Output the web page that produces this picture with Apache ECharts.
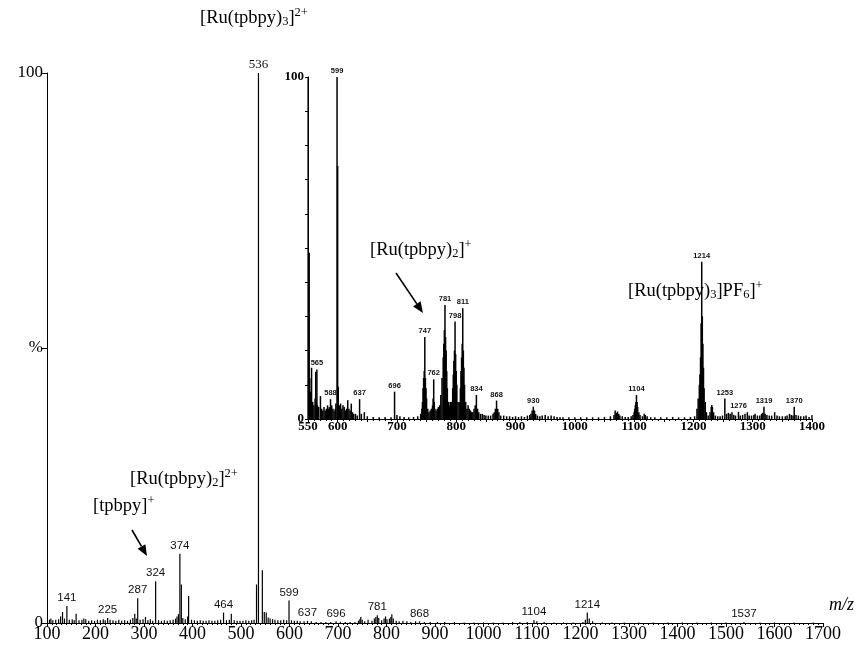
<!DOCTYPE html>
<html>
<head>
<meta charset="utf-8">
<script src="https://cdn.jsdelivr.net/npm/echarts@6/dist/echarts.min.js"></script>
<style>html,body{margin:0;padding:0;background:#fff}#c{width:862px;height:646px}</style>
</head>
<body>
<div id="c"></div>
<script>
// ---- Main spectrum (m/z 100-1700), relative intensity % ----
const mainMz = [105,108,112,118,124,128,132,136,141,146,152,156,160,166,172,176,180,186,192,198,204,210,216,220,225,230,236,242,248,254,260,266,272,277,281,284,287,292,298,303,308,313,318,324,330,336,342,348,354,360,365,368,371,374,377,380,385,390,392,398,404,410,416,422,428,434,440,446,452,458,464,470,476,480,486,492,498,504,510,516,522,527,532,536,544,548,552,556,560,565,570,576,582,588,594,599,604,610,616,622,630,637,645,655,665,675,685,696,705,715,725,735,742,745,747,750,755,762,770,775,778,781,784,790,795,798,801,806,809,811,814,820,826,834,842,850,860,868,878,890,905,920,940,960,980,1000,1020,1040,1060,1075,1090,1104,1110,1125,1145,1165,1185,1205,1210,1214,1218,1225,1245,1265,1290,1320,1350,1380,1410,1440,1470,1500,1537,1570,1600,1640,1680];
const mainInt = [0.6,0.8,0.5,0.6,0.7,1.2,2.0,0.8,3.1,0.6,0.7,0.5,1.7,0.5,0.6,0.8,0.7,0.4,0.5,0.4,0.6,0.5,0.7,0.5,0.9,0.6,0.5,0.4,0.6,0.4,0.5,0.4,0.6,0.9,1.7,0.8,4.5,0.6,0.7,1.1,0.5,0.7,0.4,7.6,0.5,0.4,0.5,0.4,0.5,0.6,0.8,1.2,1.6,12.6,7.0,0.9,0.7,1.2,4.9,0.6,0.5,0.4,0.5,0.4,0.4,0.5,0.4,0.4,0.5,0.6,1.9,0.5,0.6,1.7,0.5,0.4,0.4,0.4,0.5,0.4,0.5,0.6,7.0,100,9.6,2.0,1.9,1.0,0.8,0.7,0.6,0.5,0.5,0.6,0.5,4.1,0.5,0.4,0.4,0.3,0.3,0.4,0.3,0.2,0.2,0.2,0.2,0.3,0.2,0.2,0.2,0.2,0.4,0.7,1.1,0.6,0.3,0.6,0.4,0.8,1.1,1.4,0.9,0.5,0.8,1.2,0.7,0.8,1.1,1.6,0.8,0.4,0.3,0.4,0.3,0.2,0.3,0.3,0.2,0.2,0.2,0.2,0.2,0.1,0.1,0.1,0.1,0.1,0.2,0.2,0.2,0.5,0.3,0.2,0.1,0.1,0.1,0.2,0.6,1.9,0.8,0.3,0.1,0.1,0.1,0.1,0.1,0.1,0.1,0.1,0.1,0.1,0.2,0.1,0.1,0.1,0.1];
const mainLabels = [141,225,287,324,374,464,536,599,637,696,781,868,1104,1214,1537];

// ---- Inset spectrum (m/z 550-1400), relative intensity % ----
const insetMz = [550,551,552,553,554,556,558,560,562,563,564,565,566,568,571,573,575,577,579,581,583,585,586,588,590,592,594,596,597,599,600,601,603,605,607,609,611,613,615,617,619,621,623,625,627,630,633,637,640,645,650,660,670,680,690,696,700,705,712,720,728,735,740,742,743,744,745,746,747,748,749,750,752,754,756,758,760,761,762,763,764,766,768,770,772,774,776,778,779,780,781,782,783,784,785,787,789,790,792,794,795,796,797,798,799,800,801,803,805,807,808,809,810,811,812,813,814,816,818,820,822,824,826,828,830,832,834,836,838,841,844,847,850,854,858,862,864,866,868,870,872,875,880,885,890,895,900,905,910,915,920,924,926,928,930,932,934,937,941,945,950,955,960,965,970,975,980,990,1000,1010,1020,1030,1040,1050,1060,1066,1068,1070,1072,1074,1076,1080,1085,1090,1095,1098,1100,1101,1102,1103,1104,1105,1106,1108,1110,1114,1117,1119,1122,1128,1135,1145,1155,1165,1175,1185,1195,1202,1206,1208,1210,1211,1212,1213,1214,1215,1216,1217,1218,1220,1222,1225,1228,1230,1231,1232,1234,1237,1241,1245,1249,1253,1256,1259,1262,1265,1268,1271,1276,1279,1283,1287,1291,1294,1298,1302,1304,1308,1312,1315,1317,1319,1321,1324,1328,1332,1337,1341,1345,1350,1355,1358,1362,1365,1368,1370,1373,1377,1381,1386,1390,1395,1400];
const insetInt = [100,30,48.6,12,8,15,5,4,6,13.8,5,14.5,4,3.5,6.7,3,2.5,3.5,2.5,3,4,3,3.5,5.8,4,3,2.5,3,4.5,100,74,9.4,4,4.5,3,4,3.5,2.5,3,5.5,3,2.5,4.5,2,1.5,1.5,1,5.8,1.5,2,0.8,0.6,0.5,0.6,0.5,8,1.2,0.8,0.6,0.5,0.6,0.8,1.5,3,5,9,12,14,24,12,9,6,3,2,2.5,3,4,6,11.6,5,3,2.5,3,3.5,4,7,12,18,22,26,33.3,24,20,14,9,5,4,5,5,9,13,17,20,28.5,19,14,10,5,5,9,14,18,22,32.4,20,15,10,5,3,4,3,2.5,2,2,3,4,7,3,2,1.5,1.5,1.2,1,1,1,1.5,2,3,5.4,3,2,1,1,0.8,0.8,0.6,0.8,0.6,0.8,0.6,1,1.2,1.5,2.5,3.6,2.5,1.5,1,0.8,1,1.2,0.8,1,0.8,0.6,0.5,0.5,0.5,0.5,0.5,0.5,0.5,0.5,0.6,0.8,1.2,2.5,1.8,2.2,1.5,1,0.8,0.6,0.6,0.8,1.2,2,3,4,5,7,5,3.5,2,1.2,0.8,1.5,1.2,0.8,0.5,0.5,0.5,0.5,0.6,0.5,0.5,0.6,0.8,3,6,10,13,18,28,46,30,22,15,9,5,2,1,2,3.5,4.1,3.5,2,1,0.8,0.8,1,6,1.5,1.8,1.5,2,1.2,1,2.1,1,1.2,1.5,2,1,1,1.2,1.5,1,1,1.5,1.8,3.6,1.5,1.2,1,1,2,1,0.8,0.8,0.8,1,1.5,1.2,1,3.6,1.2,1,0.8,0.8,1,0.6,1.2];
const insetLabels = [565,588,599,637,696,747,762,781,798,811,834,868,930,1104,1214,1253,1276,1319,1370];

// ---- Axis tick label sets ----
const mainYTickText = {0: '0', 50: '%', 100: '100'};
const insetYTickText = {0: '0', 100: '100'};
const insetXTickLabels = [550,600,700,800,900,1000,1100,1200,1300,1400];

const SERIF = 'Liberation Serif';
const SANS = 'Liberation Sans';

function buildData(mz, inten, labels, labelStyle, special) {
  return mz.map(function (m, i) {
    const d = {value: [m, inten[i]]};
    if (labels.indexOf(m) >= 0) {
      d.label = Object.assign({show: true, position: 'top', distance: 2, formatter: String(m)}, labelStyle, (special && special[m]) || {});
    }
    return d;
  });
}

const mainData = buildData(mainMz, mainInt, mainLabels,
  {fontFamily: SANS, fontSize: 11.5, color: '#111'},
  {536: {fontFamily: SERIF, fontSize: 13}});
const insetData = buildData(insetMz, insetInt, insetLabels,
  {fontFamily: SANS, fontSize: 7.5, fontWeight: 'bold', color: '#111'});

function formula(parts) {
  return parts.map(function (p) { return '{' + p[0] + '|' + p[1] + '}'; }).join('');
}
const rich = {
  n: {fontFamily: SERIF, fontSize: 18.5, lineHeight: 22, verticalAlign: 'bottom', color: '#000'},
  sub: {fontFamily: SERIF, fontSize: 12.5, lineHeight: 10, verticalAlign: 'bottom', color: '#000'},
  sup: {fontFamily: SERIF, fontSize: 12.5, lineHeight: 12, verticalAlign: 'top', color: '#000'}
};
function label(x, top, parts) {
  return {type: 'text', left: x, top: top, z: 100,
    style: {text: formula(parts), rich: rich, fill: '#000'}};
}
function arrow(x1, y1, x2, y2) {
  const dx = x2 - x1, dy = y2 - y1, L = Math.sqrt(dx * dx + dy * dy);
  const ux = dx / L, uy = dy / L, hl = 11, hw = 4.5;
  const bx = x2 - ux * hl, by = y2 - uy * hl;
  return [
    {type: 'line', z: 100, shape: {x1: x1, y1: y1, x2: bx, y2: by}, style: {stroke: '#000', lineWidth: 1.6}},
    {type: 'polygon', z: 100, shape: {points: [[x2, y2], [bx - uy * hw, by + ux * hw], [bx + uy * hw, by - ux * hw]]}, style: {fill: '#000'}}
  ];
}

const chart = echarts.init(document.getElementById('c'), null, {renderer: 'canvas'});

chart.setOption({
  animation: false,
  backgroundColor: '#fff',
  grid: [
    {left: 47, right: 39, top: 73, bottom: 23, containLabel: false, outerBoundsMode: 'none'},
    {left: 308, right: 50, top: 77, bottom: 227, containLabel: false, outerBoundsMode: 'none'}
  ],
  xAxis: [
    {gridIndex: 0, type: 'value', min: 100, max: 1700, interval: 100,
      axisLine: {show: true, onZero: false, lineStyle: {color: '#000', width: 1}},
      axisTick: {show: true, length: 4, lineStyle: {color: '#000'}},
      minorTick: {show: true, splitNumber: 10, length: 2, lineStyle: {color: '#000'}},
      splitLine: {show: false},
      axisLabel: {fontFamily: SERIF, fontSize: 18, color: '#000', margin: 2, showMinLabel: true, showMaxLabel: true,
        formatter: function (v) { return String(v); }}},
    {gridIndex: 1, type: 'value', min: 550, max: 1400, interval: 50,
      axisLine: {show: true, onZero: false, lineStyle: {color: '#000', width: 1}},
      axisTick: {show: true, length: 3, lineStyle: {color: '#000'}},
      minorTick: {show: true, splitNumber: 5, length: 2, lineStyle: {color: '#000'}},
      splitLine: {show: false},
      axisLabel: {fontFamily: SERIF, fontSize: 13, fontWeight: 'bold', color: '#000', margin: 1,
        showMinLabel: true, showMaxLabel: true,
        formatter: function (v) { return insetXTickLabels.indexOf(v) >= 0 ? String(v) : ''; }}}
  ],
  yAxis: [
    {gridIndex: 0, type: 'value', min: 0, max: 100, interval: 50,
      axisLine: {show: true, lineStyle: {color: '#000', width: 1}},
      axisTick: {show: true, length: 6, lineStyle: {color: '#000'}},
      splitLine: {show: false},
      axisLabel: {fontFamily: SERIF, fontSize: 17, color: '#000', margin: 4,
        formatter: function (v) { return mainYTickText[v] !== undefined ? mainYTickText[v] : ''; }}},
    {gridIndex: 1, type: 'value', min: 0, max: 100, interval: 10,
      axisLine: {show: true, lineStyle: {color: '#000', width: 1}},
      axisTick: {show: true, length: 3, lineStyle: {color: '#000'}},
      splitLine: {show: false},
      axisLabel: {fontFamily: SERIF, fontSize: 13, fontWeight: 'bold', color: '#000', margin: 4,
        formatter: function (v) { return insetYTickText[v] !== undefined ? insetYTickText[v] : ''; }}}
  ],
  series: [
    {type: 'bar', xAxisIndex: 0, yAxisIndex: 0, barWidth: 1.2, data: mainData,
      itemStyle: {color: '#000'}, silent: true},
    {type: 'bar', xAxisIndex: 1, yAxisIndex: 1, barWidth: 1.5, data: insetData,
      itemStyle: {color: '#000'}, silent: true}
  ],
  graphic: [
    label(200, 6, [['n', '[Ru(tpbpy)'], ['sub', '3'], ['n', ']'], ['sup', '2+']]),
    label(370, 238, [['n', '[Ru(tpbpy)'], ['sub', '2'], ['n', ']'], ['sup', '+']]),
    label(628, 279, [['n', '[Ru(tpbpy)'], ['sub', '3'], ['n', ']PF'], ['sub', '6'], ['n', ']'], ['sup', '+']]),
    label(130, 467, [['n', '[Ru(tpbpy)'], ['sub', '2'], ['n', ']'], ['sup', '2+']]),
    label(93, 494, [['n', '[tpbpy]'], ['sup', '+']]),
    {type: 'text', left: 829, top: 596, z: 100,
      style: {text: 'm/z', fontFamily: SERIF, fontSize: 18, fontStyle: 'italic', fill: '#000'}}
  ].concat(arrow(396, 273, 423, 313)).concat(arrow(132, 530, 147, 556))
});
</script>
</body>
</html>
